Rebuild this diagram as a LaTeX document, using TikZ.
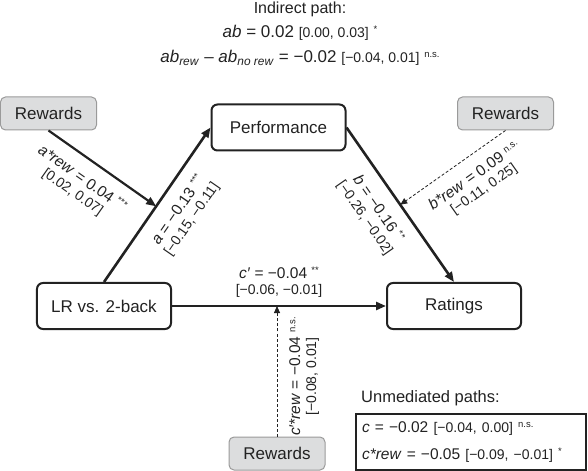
\documentclass[tikz,border=0pt]{standalone}
\usepackage{fontspec}
\setmainfont{Liberation Sans}
\usetikzlibrary{arrows.meta}
\definecolor{rewgray}{HTML}{DCDDDE}
\definecolor{rewline}{HTML}{9A9A9A}
\definecolor{ink}{HTML}{222222}
\newcommand{\sig}[1]{\raisebox{0.6ex}{\fontsize{9.5bp}{9.5bp}\selectfont #1}}
\newcommand{\ci}[1]{{\fontsize{14bp}{16bp}\selectfont #1}}
\begin{document}
\begin{tikzpicture}[x=1bp,y=-1bp,
  box/.style={draw=ink,line width=2bp,rounded corners=6bp,minimum width=134bp,minimum height=46bp,font=\fontsize{17bp}{18bp}\selectfont,text=ink},
  rewbox/.style={draw=rewline,fill=rewgray,line width=1bp,rounded corners=5bp,minimum width=96bp,minimum height=33bp,font=\fontsize{17bp}{18bp}\selectfont,text=ink},
  effarrow/.style={draw=ink,line width=2.6bp,-{Triangle[length=10bp,width=8bp]}},
  modarrow/.style={draw=ink,line width=0.8bp,dash pattern=on 3bp off 2bp,-{Triangle[length=7bp,width=6bp]}},
  est/.style={font=\fontsize{15.5bp}{16bp}\selectfont,text=ink,align=center,inner sep=1bp},
  slest/.style={est,sloped,below=11bp}]
\useasboundingbox (0,0) rectangle (588,471);
% indirect path
\node[est,font=\fontsize{16bp}{17bp}\selectfont] (ind) at (300,9) {Indirect path:};
\node[est,font=\fontsize{17bp}{18bp}\selectfont] (abtot) at (300,33) {\textit{ab} = 0.02 \ci{[0.00, 0.03]} \sig{*}};
\node[est,font=\fontsize{17bp}{18bp}\selectfont] (abdiff) at (300,58) {\textit{ab}\textsubscript{\textit{rew}} – \textit{ab}\textsubscript{\textit{no rew}} = −0.02 \ci{[−0.04, 0.01]} \sig{n.s.}};
% variables
\node[box] (perf) at (278.5,127.5) {Performance};
\node[box] (lr) at (104,306) {LR vs. 2-back};
\node[box] (rat) at (454,306) {Ratings};
\node[rewbox] (rewa) at (48.5,113.5) {Rewards};
\node[rewbox] (rewb) at (505.5,113.5) {Rewards};
\node[rewbox] (rewc) at (277,453.5) {Rewards};
% paths
\draw[effarrow] (lr.north) -- node[slest,pos=0.54] {\textit{a} = −0.13 \sig{***}\\ \ci{[−0.15, −0.11]}} coordinate[pos=0.49] (amid) (perf.west);
\draw[effarrow] (perf.east) -- node[slest,pos=0.45] {\textit{b} = −0.16 \sig{**}\\ \ci{[−0.26, −0.02]}} coordinate[pos=0.5] (bmid) (rat.north);
\draw[effarrow] (lr.east) -- node[est,pos=0.5,above=6bp] {\textit{c′} = −0.04 \sig{**}\\ \ci{[−0.06, −0.01]}} coordinate[pos=0.49] (cmid) (rat.west);
% moderation by rewards
\draw[effarrow,line width=2.2bp] (rewa.south) -- node[slest,pos=0.42] {\textit{a*rew} = 0.04 \sig{***}\\ \ci{[0.02, 0.07]}} (amid);
\draw[modarrow] (rewb.south) -- node[slest,pos=0.4] {\textit{b*rew} = 0.09 \sig{n.s.}\\ \ci{[−0.11, 0.25]}} (bmid);
\draw[modarrow] (rewc.north) -- node[slest,pos=0.46] {\textit{c′*rew} = −0.04 \sig{n.s.}\\ \ci{[−0.08, 0.01]}} (rewc.north |- cmid);
% unmediated paths
\node[est,anchor=west,font=\fontsize{16.5bp}{18bp}\selectfont] (unmed) at (360,398) {Unmediated paths:};
\node[draw=ink,line width=1.2bp,minimum width=230bp,minimum height=56bp,text width=218bp,align=left,inner sep=6bp,font=\fontsize{15.5bp}{27bp}\selectfont,text=ink] (unbox) at (471,442) {\textit{c} = −0.02 \ci{[−0.04, 0.00]} \sig{n.s.}\\ \textit{c*rew} = −0.05 \ci{[−0.09, −0.01]} \sig{*}};
\end{tikzpicture}
\end{document}
